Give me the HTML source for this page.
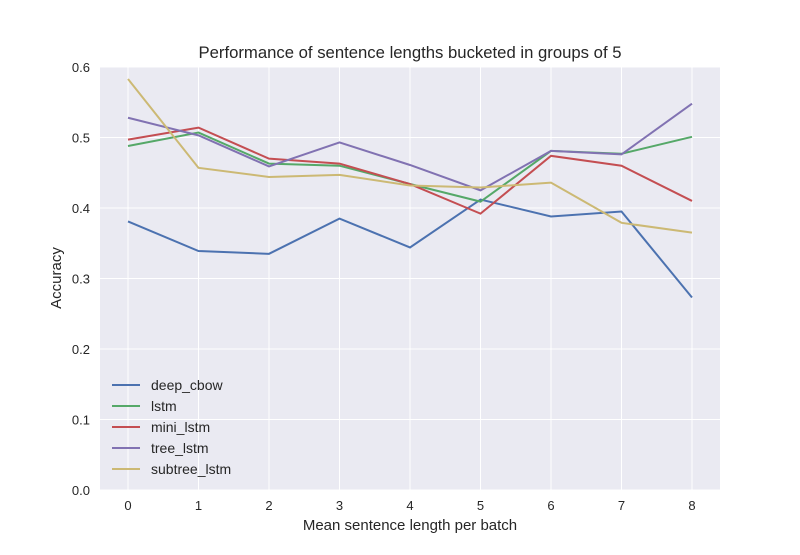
<!DOCTYPE html>
<html><head><meta charset="utf-8"><style>
body{margin:0;background:#fff;font-family:"Liberation Sans",sans-serif;}
svg text{font-family:"Liberation Sans",sans-serif;fill:#262626;}
</style></head><body>
<svg id="chart" width="800" height="550">
<rect x="0" y="0" width="800" height="550" fill="#fff"/>
<rect x="100" y="67" width="620" height="423" fill="#eaeaf2"/>
<g id="grid"></g><g id="ticks"></g><g id="lines"></g><g id="legend"></g>
<text x="410" y="58" text-anchor="middle" font-size="16.7">Performance of sentence lengths bucketed in groups of 5</text>
<text x="410" y="530" text-anchor="middle" font-size="15">Mean sentence length per batch</text>
<text transform="translate(61,278) rotate(-90)" text-anchor="middle" font-size="15">Accuracy</text>
</svg>
<script>
const categories=[0,1,2,3,4,5,6,7,8];
const yTicks=[0,0.1,0.2,0.3,0.4,0.5,0.6];
const seriesNames=["deep_cbow","lstm","mini_lstm","tree_lstm","subtree_lstm"];
const deepCbow=[0.381,0.339,0.335,0.385,0.344,0.412,0.388,0.395,0.273];
const lstm=[0.488,0.507,0.463,0.460,0.434,0.409,0.481,0.477,0.501];
const miniLstm=[0.497,0.514,0.470,0.463,0.434,0.392,0.474,0.460,0.410];
const treeLstm=[0.528,0.503,0.459,0.493,0.461,0.425,0.481,0.476,0.548];
const subtreeLstm=[0.583,0.457,0.444,0.447,0.432,0.429,0.436,0.379,0.365];
const series=[deepCbow,lstm,miniLstm,treeLstm,subtreeLstm];
const colors=["#4c72b0","#55a868","#c44e52","#8172b2","#ccb974"];
const NS="http://www.w3.org/2000/svg";
const xs=v=>128+v*70.5;
const ys=v=>490-v*705;
function mk(t,a,p){const e=document.createElementNS(NS,t);for(const k in a)e.setAttribute(k,a[k]);p.appendChild(e);return e;}
const grid=document.getElementById('grid'),ticks=document.getElementById('ticks');
categories.forEach(c=>{
 const l=mk('line',{x1:xs(c),x2:xs(c),y1:67,y2:490,stroke:'#fff','stroke-width':1},grid);
 
 
 const t=mk('text',{x:xs(c),y:510,'text-anchor':'middle','font-size':13},ticks);t.textContent=c;
 
 
});
yTicks.forEach(v=>{
 const l=mk('line',{x1:100,x2:720,y1:ys(v),y2:ys(v),stroke:'#fff','stroke-width':1},grid);
 
 
 const t=mk('text',{x:90,y:ys(v)+5,'text-anchor':'end','font-size':13},ticks);t.textContent=v.toFixed(1);
 
 
});
const lines=document.getElementById('lines'),leg=document.getElementById('legend');
series.forEach((s,i)=>{
 const p=mk('polyline',{points:s.map((v,j)=>xs(categories[j])+','+ys(v)).join(' '),fill:'none',stroke:colors[i],'stroke-width':2},lines);
 
 
 const y=385+i*21;
 const g=mk('g',{},leg);
 
 
 mk('line',{x1:112,x2:140,y1:y,y2:y,stroke:colors[i],'stroke-width':2},g);
 const t=mk('text',{x:151,y:y+5,'font-size':14},g);t.textContent=seriesNames[i];
});
</script>
</body></html>
